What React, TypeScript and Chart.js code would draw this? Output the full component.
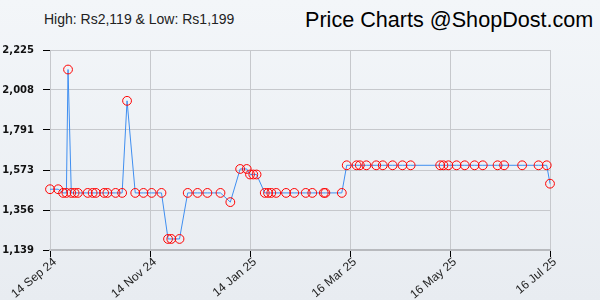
import React, { useEffect, useRef } from "react";
import { Chart, registerables } from "chart.js";

Chart.register(...registerables);

const startDate = "2024-09-14";

const dates = [
  "2024-09-14", "2024-09-19", "2024-09-22", "2024-09-24", "2024-09-25", "2024-09-27",
  "2024-09-29", "2024-10-01", "2024-10-07", "2024-10-10", "2024-10-12", "2024-10-17",
  "2024-10-19", "2024-10-24", "2024-10-28", "2024-10-31", "2024-11-05", "2024-11-10",
  "2024-11-15", "2024-11-21", "2024-11-25", "2024-11-27", "2024-12-02", "2024-12-07",
  "2024-12-13", "2024-12-19", "2024-12-27", "2025-01-02", "2025-01-08", "2025-01-12",
  "2025-01-14", "2025-01-16", "2025-01-18", "2025-01-23", "2025-01-25", "2025-01-27",
  "2025-01-30", "2025-02-05", "2025-02-10", "2025-02-17", "2025-02-21", "2025-02-28",
  "2025-03-01", "2025-03-11", "2025-03-14", "2025-03-20", "2025-03-22", "2025-03-26",
  "2025-04-01", "2025-04-05", "2025-04-11", "2025-04-17", "2025-04-22", "2025-05-10",
  "2025-05-12", "2025-05-15", "2025-05-20", "2025-05-25", "2025-05-31", "2025-06-05",
  "2025-06-14", "2025-06-18", "2025-06-29", "2025-07-09", "2025-07-14", "2025-07-16",
];

const prices = [
  1469, 1469, 1449, 1449, 2119, 1449,
  1449, 1449, 1449, 1449, 1449, 1449,
  1449, 1449, 1449, 1949, 1449, 1449,
  1449, 1449, 1199, 1199, 1199, 1449,
  1449, 1449, 1449, 1399, 1579, 1579,
  1549, 1549, 1549, 1449, 1449, 1449,
  1449, 1449, 1449, 1449, 1449, 1449,
  1449, 1449, 1599, 1599, 1599, 1599,
  1599, 1599, 1599, 1599, 1599, 1599,
  1599, 1599, 1599, 1599, 1599, 1599,
  1599, 1599, 1599, 1599, 1599, 1499,
];

const xTickDates = ["2024-09-14", "2024-11-14", "2025-01-14", "2025-03-16", "2025-05-16", "2025-07-16"];
const xTickLabels = ["14 Sep 24", "14 Nov 24", "14 Jan 25", "16 Mar 25", "16 May 25", "16 Jul 25"];
const yTicks = [1139, 1356, 1573, 1791, 2008, 2225];

const titleLeft = "High: Rs2,119 & Low: Rs1,199";
const titleRight = "Price Charts @ShopDost.com";

const dayOf = (s: string) =>
  (Date.parse(s + "T00:00:00Z") - Date.parse(startDate + "T00:00:00Z")) / 86400000;

export default function App() {
  const ref = useRef<HTMLCanvasElement | null>(null);

  useEffect(() => {
    if (!ref.current) return;
    const xTickVals = xTickDates.map(dayOf);
    const chart = new Chart(ref.current, {
      type: "line",
      data: {
        datasets: [
          {
            data: dates.map((d, i) => ({ x: dayOf(d), y: prices[i] })),
            borderColor: "#3f8ef0",
            borderWidth: 1,
            tension: 0,
            pointRadius: 4.4,
            pointBorderColor: "#ff0000",
            pointBackgroundColor: "rgba(255,255,255,0)",
            pointBorderWidth: 1,
            clip: false as any,
          },
        ],
      },
      options: {
        responsive: false,
        animation: false,
        events: [],
        layout: { padding: { left: 0, right: 50, top: 50, bottom: 0 } },
        plugins: { legend: { display: false }, tooltip: { enabled: false } },
        scales: {
          x: {
            type: "linear",
            min: xTickVals[0],
            max: xTickVals[xTickVals.length - 1],
            afterBuildTicks: (scale: any) => {
              scale.ticks = xTickVals.map((v) => ({ value: v }));
            },
            afterFit: (scale: any) => {
              scale.height = 50;
            },
            ticks: {
              autoSkip: false,
              minRotation: 40,
              maxRotation: 40,
              padding: -2,
              labelOffset: 5,
              color: "#222",
              font: { family: "'Liberation Sans', Arial, sans-serif", size: 12 },
              callback: (v: any) => {
                const i = xTickVals.indexOf(Number(v));
                return i >= 0 ? xTickLabels[i] : "";
              },
            },
            grid: { color: "#c6c8cc", lineWidth: 1, tickLength: 7, tickColor: "#000" },
            border: { color: "#b8babe", width: 2 },
          },
          y: {
            type: "linear",
            min: yTicks[0],
            max: yTicks[yTicks.length - 1],
            afterBuildTicks: (scale: any) => {
              scale.ticks = yTicks.map((v) => ({ value: v }));
            },
            afterFit: (scale: any) => {
              scale.width = 50;
            },
            ticks: {
              padding: 9,
              color: "#111",
              font: { family: "'DejaVu Sans', Verdana, sans-serif", size: 10, weight: "bold" },
              callback: (v: any) => Number(v).toLocaleString("en-US"),
            },
            grid: { color: "#c6c8cc", lineWidth: 1, tickLength: 7, tickColor: "#000" },
            border: { color: "#c6c8cc", width: 1 },
          },
        },
      },
    } as any);
    return () => chart.destroy();
  }, []);

  return (
    <div
      style={{
        position: "absolute",
        left: 0,
        top: 0,
        width: 600,
        height: 300,
        background: "linear-gradient(#f3f6f9, #e8ecf1)",
        overflow: "hidden",
      }}
    >
      <div
        style={{
          position: "absolute",
          left: 44,
          top: 11,
          fontFamily: "'Liberation Sans', Arial, sans-serif",
          fontSize: 14,
          color: "#222",
          whiteSpace: "nowrap",
          lineHeight: "16px",
        }}
      >
        {titleLeft}
      </div>
      <div
        style={{
          position: "absolute",
          left: 305,
          top: 8,
          fontFamily: "'Liberation Sans', Arial, sans-serif",
          fontSize: 21.6,
          color: "#000",
          whiteSpace: "nowrap",
          lineHeight: "24px",
        }}
      >
        {titleRight}
      </div>
      <canvas ref={ref} width={600} height={300} style={{ position: "absolute", left: 0, top: 0, display: "block" }} />
    </div>
  );
}
